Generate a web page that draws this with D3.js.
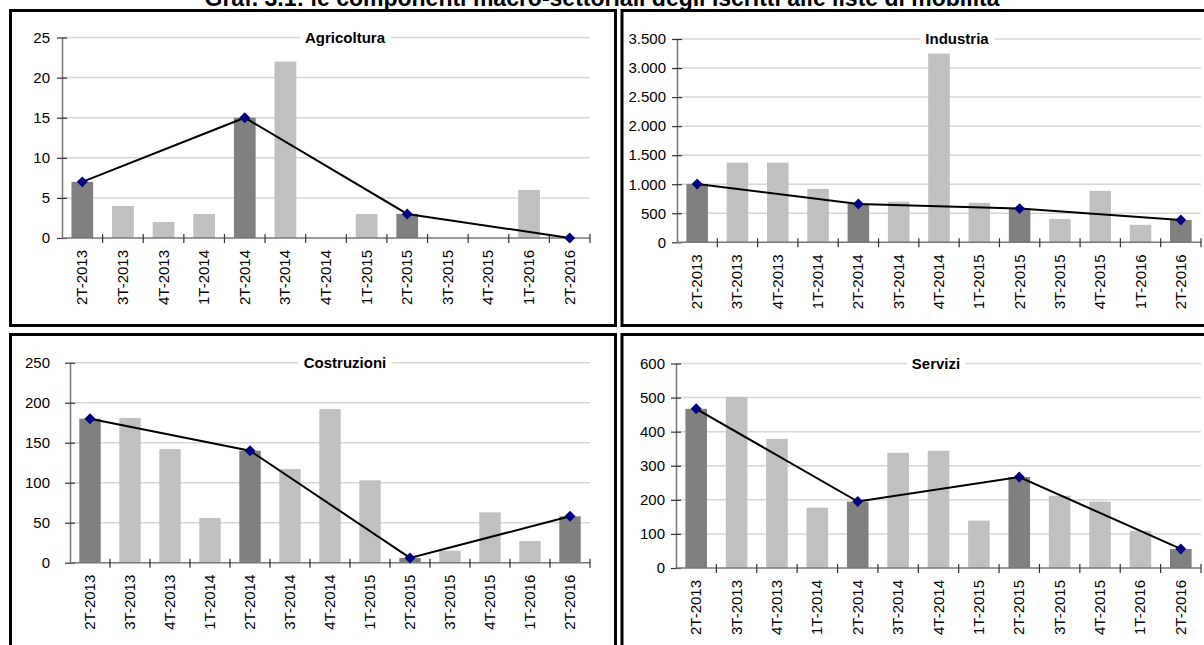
<!DOCTYPE html>
<html>
<head>
<meta charset="utf-8">
<script src="https://cdn.jsdelivr.net/npm/d3@7"></script>
<style>
  html, body { margin: 0; padding: 0; background: #fff; }
  svg { display: block; }
  text { font-family: "Liberation Sans", Arial, sans-serif; }
</style>
</head>
<body>
<svg id="chart" width="1204" height="645"></svg>
<script>
// ---------------- DATA ----------------
const mainTitle = "Graf. 3.1: le componenti macro-settoriali degli iscritti alle liste di mobilità";
const categories = ["2T-2013","3T-2013","4T-2013","1T-2014","2T-2014","3T-2014","4T-2014","1T-2015","2T-2015","3T-2015","4T-2015","1T-2016","2T-2016"];
const highlightIdx = [0, 4, 8, 12];   // 2nd quarters: dark bars + line

const agricoltura = [7, 4, 2, 3, 15, 22, 0, 3, 3, 0, 0, 6, 0];
const industria   = [1005, 1370, 1370, 920, 660, 700, 3250, 680, 580, 400, 885, 300, 385];
const costruzioni = [180, 181, 142, 56, 140, 117, 192, 103, 6, 15, 63, 27, 58];
const servizi     = [467, 502, 379, 177, 195, 338, 344, 139, 267, 212, 195, 109, 56];

const ticksAgricoltura = [0, 5, 10, 15, 20, 25];
const ticksIndustria   = [0, 500, 1000, 1500, 2000, 2500, 3000, 3500];
const ticksCostruzioni = [0, 50, 100, 150, 200, 250];
const ticksServizi     = [0, 100, 200, 300, 400, 500, 600];

// ---------------- LAYOUT ----------------
const panels = [
  { name: "Agricoltura", values: agricoltura, ticks: ticksAgricoltura,
    box: [10.5, 10.5, 615.5, 325.5], plot: { x0: 62, x1: 590, yTop: 37.5, yBot: 238 }, titleX: 345, labelGap: 12 },
  { name: "Industria", values: industria, ticks: ticksIndustria,
    box: [622, 10.5, 1240, 325.5], plot: { x0: 677, x1: 1201, yTop: 39, yBot: 242.3 }, titleX: 957, labelGap: 11 },
  { name: "Costruzioni", values: costruzioni, ticks: ticksCostruzioni,
    box: [10.5, 334.5, 615.5, 680], plot: { x0: 70, x1: 590, yTop: 362.7, yBot: 562.7 }, titleX: 345, labelGap: 20 },
  { name: "Servizi", values: servizi, ticks: ticksServizi,
    box: [622, 334.5, 1240, 680], plot: { x0: 676, x1: 1201, yTop: 363.5, yBot: 568 }, titleX: 936, labelGap: 11 }
];

const itFormat = d3.formatLocale({ decimal: ",", thousands: ".", grouping: [3], currency: ["€", ""] }).format(",d");

const svg = d3.select("#chart");

// main title (partly cut at top, as in the original)
const t = svg.append("text")
  .attr("x", 602).attr("y", 6)
  .attr("text-anchor", "middle")
  .attr("font-weight", "bold")
  .attr("font-size", 17)
  .attr("fill", "#000")
  .text(mainTitle);
const w = t.node().getComputedTextLength();
t.attr("font-size", 17 * 795 / w);

panels.forEach(p => {
  const g = svg.append("g");

  const x = d3.scaleBand().domain(categories).range([p.plot.x0, p.plot.x1]).padding(0);
  const maxT = p.ticks[p.ticks.length - 1];
  const y = d3.scaleLinear().domain([0, maxT]).range([p.plot.yBot, p.plot.yTop]);

  // gridlines
  g.append("g").selectAll("line").data(p.ticks.filter(d => d > 0)).join("line")
    .attr("x1", p.plot.x0).attr("x2", p.plot.x1)
    .attr("y1", d => y(d)).attr("y2", d => y(d))
    .attr("stroke", "#d6d6d6").attr("stroke-width", 1.5);

  // bars
  const bw = x.bandwidth() * 0.535;
  g.append("g").selectAll("rect").data(p.values).join("rect")
    .attr("x", (d, i) => x(categories[i]) + (x.bandwidth() - bw) / 2)
    .attr("width", bw)
    .attr("y", d => y(d))
    .attr("height", d => y(0) - y(d))
    .attr("fill", (d, i) => highlightIdx.includes(i) ? "#808080" : "#c0c0c0");

  // y axis
  const yAxis = d3.axisLeft(y).tickValues(p.ticks).tickFormat(itFormat).tickSizeInner(5).tickSizeOuter(0).tickPadding(p.labelGap - 5);
  const ya = g.append("g").attr("transform", `translate(${p.plot.x0},0)`).call(yAxis);
  ya.select(".domain").attr("stroke", "#777").attr("stroke-width", 1.5);
  ya.selectAll(".tick line").attr("x2", 5).attr("x1", -5).attr("stroke", "#333").attr("stroke-width", 1.2);
  ya.selectAll(".tick text").attr("font-size", 15).attr("fill", "#000").attr("font-family", "Liberation Sans, Arial, sans-serif");

  // x axis (ticks between categories, crossing)
  const xAxisG = g.append("g");
  xAxisG.append("line")
    .attr("x1", p.plot.x0).attr("x2", p.plot.x1)
    .attr("y1", y(0)).attr("y2", y(0))
    .attr("stroke", "#777").attr("stroke-width", 1.5);
  const boundaries = categories.map(c => x(c)).concat([x(categories[categories.length - 1]) + x.bandwidth()]).slice(1);
  xAxisG.selectAll("line.tk").data(boundaries).join("line").attr("class", "tk")
    .attr("x1", d => d).attr("x2", d => d)
    .attr("y1", y(0) - 4).attr("y2", y(0) + 5)
    .attr("stroke", "#333").attr("stroke-width", 1.2);
  xAxisG.selectAll("text").data(categories).join("text")
    .attr("transform", d => `translate(${x(d) + x.bandwidth() / 2 + 5},${y(0) + 12}) rotate(-90)`)
    .attr("text-anchor", "end")
    .attr("font-size", 15)
    .attr("fill", "#000")
    .text(d => d);

  // line of 2nd quarters
  const pts = highlightIdx.map(i => [x(categories[i]) + x.bandwidth() / 2, y(p.values[i])]);
  g.append("path").attr("d", d3.line()(pts)).attr("fill", "none").attr("stroke", "#000").attr("stroke-width", 2);
  g.append("g").selectAll("path").data(pts).join("path")
    .attr("d", d3.symbol().type(d3.symbolSquare).size(60))
    .attr("transform", d => `translate(${d[0]},${d[1]}) rotate(45)`)
    .attr("fill", "#000080");

  // panel title with white background
  const tt = g.append("text")
    .attr("x", p.titleX).attr("y", p.plot.yTop)
    .attr("dy", "0.35em")
    .attr("text-anchor", "middle")
    .attr("font-weight", "bold")
    .attr("font-size", 15)
    .attr("fill", "#000")
    .text(p.name);
  const bb = tt.node().getBBox();
  g.insert("rect", () => tt.node())
    .attr("x", bb.x - 5).attr("y", bb.y).attr("width", bb.width + 10).attr("height", bb.height)
    .attr("fill", "#fff");

  // panel border
  svg.append("rect")
    .attr("x", p.box[0]).attr("y", p.box[1])
    .attr("width", p.box[2] - p.box[0]).attr("height", p.box[3] - p.box[1])
    .attr("fill", "none").attr("stroke", "#000").attr("stroke-width", 3);
});
</script>
</body>
</html>
